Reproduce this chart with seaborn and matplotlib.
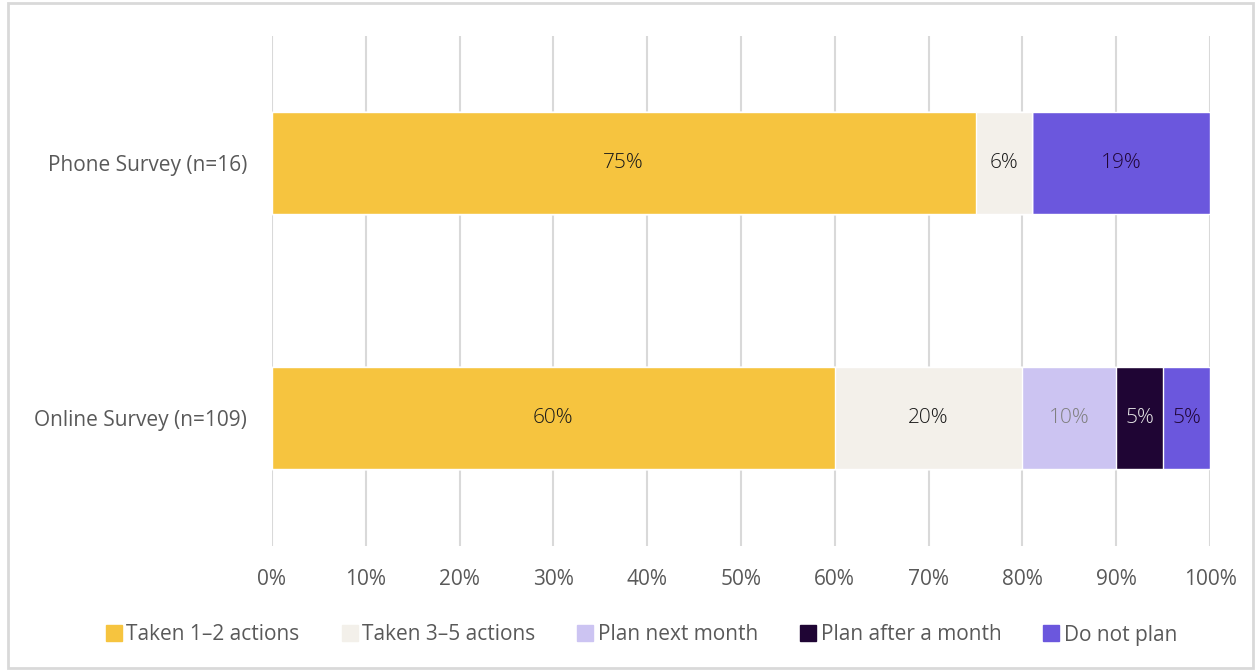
import numpy as np
import pandas as pd
import matplotlib.pyplot as plt
import seaborn as sns
from matplotlib.lines import Line2D
from matplotlib.patches import Rectangle

surveys = ["Phone Survey (n=16)", "Online Survey (n=109)"]
series = ["Taken 1\u20132 actions", "Taken 3\u20135 actions", "Plan next month",
          "Plan after a month", "Do not plan"]
taken_1_2 = [75, 60]
taken_3_5 = [6, 20]
plan_next = [0, 10]
plan_after = [0, 5]
do_not = [19, 5]

colors = ["#F6C43F", "#F3F0EA", "#CCC4F2", "#1F0534", "#6B57DD"]
label_colors = ["#1A1A1A", "#1A1A1A", "#7F7F7F", "#E6E6E6", "#1F0534"]

sns.set_theme(style="white")
plt.rcParams['font.family'] = ['Open Sans', 'DejaVu Sans']

values = np.array([taken_1_2, taken_3_5, plan_next, plan_after, do_not], dtype=float)
cum = values.cumsum(axis=0)

fig = plt.figure(figsize=(12.55, 6.71), dpi=100)
ax = fig.add_axes([272 / 1255, 1 - 545.5 / 671, 938 / 1255, 510 / 671])

# stacked bars: draw cumulative totals from the back forward
for i in range(len(series) - 1, -1, -1):
    df = pd.DataFrame({"survey": surveys, "value": cum[i]})
    sns.barplot(data=df, x="value", y="survey", orient="h", color=colors[i],
                width=0.4, saturation=1, ax=ax, zorder=3)

for i in range(len(series)):
    for j in range(len(surveys)):
        v = values[i, j]
        if v <= 0:
            continue
        ax.text(cum[i, j] - v / 2, j, f"{v:.0f}%", ha="center", va="center",
                fontsize=15, color=label_colors[i], fontweight="light", zorder=5)

ax.set_xlim(0, 100)
ax.set_ylim(1.5, -0.5)
ax.set_xticks(np.arange(0, 101, 10))
ax.set_xticklabels([f"{t}%" for t in range(0, 101, 10)])
ax.xaxis.grid(True, color="#D9D9D9", linewidth=1.5, zorder=0)
ax.set_axisbelow(True)
for s in ax.spines.values():
    s.set_visible(False)
ax.tick_params(axis="x", length=0, pad=17, labelsize=15, labelcolor="#595959")
ax.tick_params(axis="y", length=0, pad=18, labelsize=15, labelcolor="#595959")
ax.set_xlabel("")
ax.set_ylabel("")

handles = [Line2D([], [], marker="s", linestyle="", markersize=11,
                  markerfacecolor=c, markeredgecolor=c) for c in colors]
leg = fig.legend(handles, series, loc="center", bbox_to_anchor=(0.511, 1 - 635 / 671),
                 ncol=5, frameon=False, fontsize=15, handlelength=0.8,
                 handletextpad=0.2, columnspacing=2.0)
for t in leg.get_texts():
    t.set_color("#595959")

fig.patches.append(Rectangle((8 / 1255, 3 / 671), 1245 / 1255, 665 / 671,
                             transform=fig.transFigure, fill=False,
                             edgecolor="#D9D9D9", linewidth=2))

fig.savefig("out.png", dpi=100)
